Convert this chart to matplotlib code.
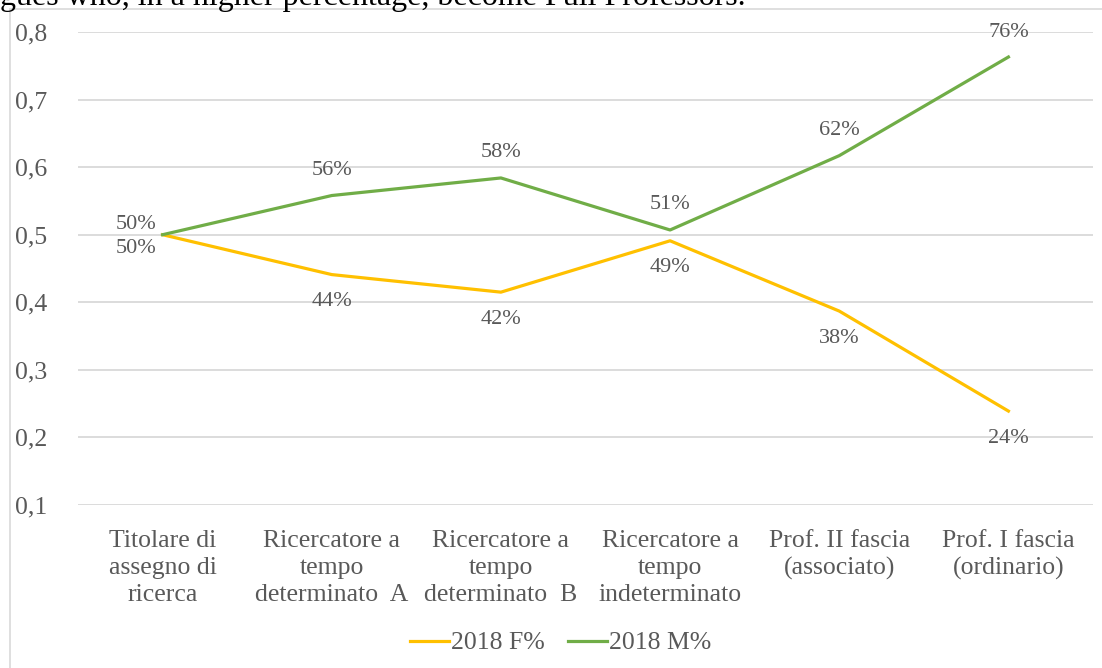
import matplotlib
matplotlib.use('Agg')
import matplotlib.pyplot as plt
from matplotlib.lines import Line2D
from matplotlib.patches import Rectangle

# dati
categorie = [
    'Titolare di\nassegno di\nricerca',
    'Ricercatore a\ntempo\ndeterminato  A',
    'Ricercatore a\ntempo\ndeterminato  B',
    'Ricercatore a\ntempo\nindeterminato',
    'Prof. II fascia\n(associato)',
    'Prof. I fascia\n(ordinario)',
]
f_2018 = [0.50, 0.441, 0.415, 0.491, 0.387, 0.239]
m_2018 = [0.50, 0.558, 0.584, 0.507, 0.617, 0.763]
f_labels = ['50%', '44%', '42%', '49%', '38%', '24%']
m_labels = ['50%', '56%', '58%', '51%', '62%', '76%']
y_ticks = [0.1, 0.2, 0.3, 0.4, 0.5, 0.6, 0.7, 0.8]
serie_nomi = ['2018 F%', '2018 M%']

GIALLO = '#FFC000'
VERDE = '#70AD47'
GRIGIO = '#595959'
GRIGLIA = '#D9D9D9'

plt.rcParams['font.family'] = ['Liberation Serif', 'DejaVu Serif']

W, H = 1102, 668
fig = plt.figure(figsize=(W / 100, H / 100), dpi=100)

# testo del documento tagliato in alto
fig.text(0, 1 - 5 / H, 'gues who, in a higher percentage, become Full Professors.',
         fontsize=23, color='black', ha='left', va='baseline')

# cornice del grafico (Excel)
fig.patches.append(Rectangle((10 / W, -0.05), 1.1, (H - 9) / H + 0.05,
                             transform=fig.transFigure, fill=False,
                             edgecolor=GRIGLIA, lw=1.2))

ax = fig.add_axes([78 / W, 1 - 505 / H, (1093 - 78) / W, (505 - 32) / H])
x = list(range(len(categorie)))

ax.plot(x, f_2018, color=GIALLO, lw=2.3, solid_joinstyle='round', zorder=3)
ax.plot(x, m_2018, color=VERDE, lw=2.3, solid_joinstyle='round', zorder=3)

ax.set_xlim(-0.5, len(categorie) - 0.5)
ax.set_ylim(0.1, 0.8)
ax.set_yticks(y_ticks)
ax.set_yticklabels([f'{v:.1f}'.replace('.', ',') for v in y_ticks])
ax.set_xticks(x)
ax.set_xticklabels(categorie, linespacing=1.3)
ax.tick_params(axis='y', length=0, pad=22, labelsize=18.5, labelcolor=GRIGIO)
ax.tick_params(axis='x', length=0, pad=18, labelsize=18.5, labelcolor=GRIGIO)
for s in ax.spines.values():
    s.set_visible(False)
ax.grid(axis='y', color=GRIGLIA, lw=1.3)
ax.set_axisbelow(True)

# etichette dati
for i, (fv, mv, fl, ml) in enumerate(zip(f_2018, m_2018, f_labels, m_labels)):
    if i == 0:
        ax.annotate(ml, (i, mv), xytext=(-6, 10), textcoords='offset pixels',
                    ha='right', va='center', fontsize=16, color=GRIGIO)
        ax.annotate(fl, (i, fv), xytext=(-6, -14), textcoords='offset pixels',
                    ha='right', va='center', fontsize=16, color=GRIGIO)
    else:
        ax.annotate(ml, (i, mv), xytext=(0, 25), textcoords='offset pixels',
                    ha='center', va='center', fontsize=16, color=GRIGIO)
        ax.annotate(fl, (i, fv), xytext=(0, -27), textcoords='offset pixels',
                    ha='center', va='center', fontsize=16, color=GRIGIO)

handles = [Line2D([], [], color=GIALLO, lw=2.3), Line2D([], [], color=VERDE, lw=2.3)]
fig.legend(handles, serie_nomi, loc='center', bbox_to_anchor=(561 / W, 1 - 643 / H),
           ncol=2, frameon=False, fontsize=18.5, labelcolor=GRIGIO,
           handlelength=1.5, handletextpad=0.1, columnspacing=0.9)

fig.savefig('out.png', dpi=100)
